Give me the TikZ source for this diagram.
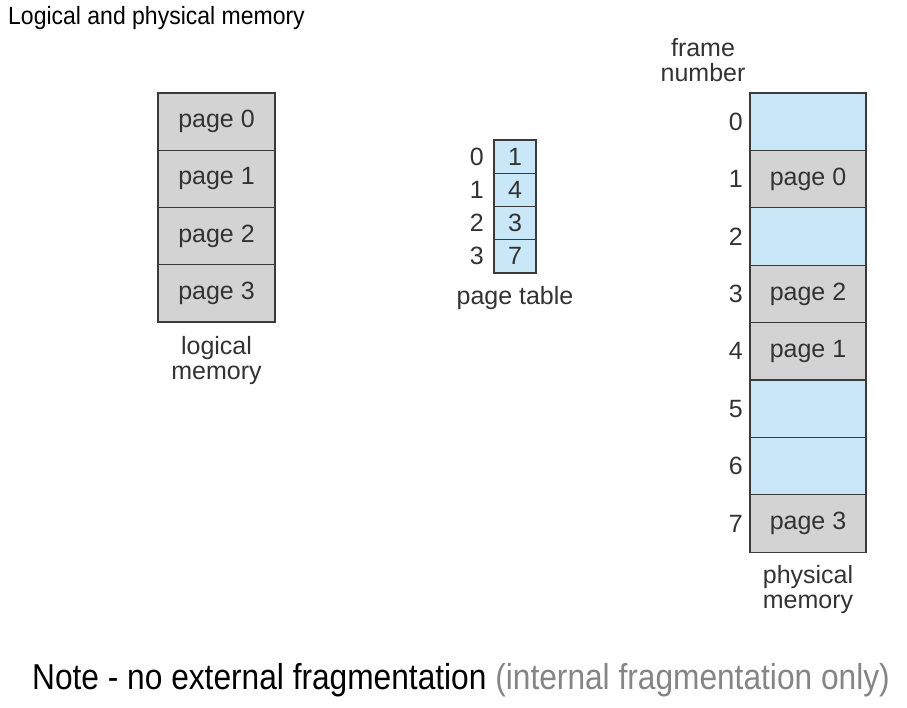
\documentclass[tikz,border=0pt]{standalone}
\usepackage{fontspec}
\setmainfont{Liberation Sans}
\usetikzlibrary{positioning}
\definecolor{memgray}{HTML}{D3D3D3}
\definecolor{memblue}{HTML}{C8E8F8}
\definecolor{memline}{HTML}{3A3A3A}
\definecolor{memtext}{HTML}{333333}
\definecolor{notegray}{HTML}{858585}
\newcommand{\memfont}{\fontsize{25}{29}\selectfont}
\tikzset{
  cell/.style={draw=memline, line width=1.2pt, outer sep=0pt, inner sep=0pt,
    text=memtext, font=\memfont},
  used/.style={cell, fill=memgray},
  free/.style={cell, fill=memblue},
  logcell/.style={used, minimum width=117pt, minimum height=57.25pt},
  physcell/.style={minimum width=116pt, minimum height=57.4pt},
  tabcell/.style={free, minimum width=42pt, minimum height=33.25pt},
  caption/.style={text=memtext, align=center, inner sep=0pt,
    font=\fontsize{25}{25}\selectfont},
  index/.style={text=memtext, inner sep=0pt, font=\memfont}
}
\begin{document}
\begin{tikzpicture}[x=1pt, y=-1pt]
  \useasboundingbox[fill=white] (0,0) rectangle (907,707);
  % title
  \node[anchor=west, inner sep=0pt] (title) at (8,18)
    {\scalebox{0.92}[1]{\fontsize{25}{30}\selectfont Logical and physical memory}};
  % logical memory
  \node[logcell, anchor=north west] (lp0) at (158,93) {page 0};
  \node[logcell, below=0pt of lp0] (lp1) {page 1};
  \node[logcell, below=0pt of lp1] (lp2) {page 2};
  \node[logcell, below=0pt of lp2] (lp3) {page 3};
  \node[caption, below=14pt of lp3] (logcap) {logical\\memory};
  % page table
  \node[tabcell, anchor=north west] (pt0) at (494,140) {1};
  \node[tabcell, below=0pt of pt0] (pt1) {4};
  \node[tabcell, below=0pt of pt1] (pt2) {3};
  \node[tabcell, below=0pt of pt2] (pt3) {7};
  \foreach \i in {0,...,3}
    \node[index, left=10pt of pt\i] (pi\i) {\i};
  \node[caption, below=13pt of pt3] (ptcap) {page table};
  % physical memory
  \node[free, physcell, anchor=north west] (fr0) at (750,93) {};
  \node[used, physcell, below=0pt of fr0] (fr1) {page 0};
  \node[free, physcell, below=0pt of fr1] (fr2) {};
  \node[used, physcell, below=0pt of fr2] (fr3) {page 2};
  \node[used, physcell, below=0pt of fr3] (fr4) {page 1};
  \node[free, physcell, below=0pt of fr4] (fr5) {};
  \node[free, physcell, below=0pt of fr5] (fr6) {};
  \node[used, physcell, below=0pt of fr6] (fr7) {page 3};
  \foreach \i in {0,...,7}
    \node[index, left=7pt of fr\i] (fi\i) {\i};
  \node[caption] (frcap) at (703,60) {frame\\number};
  \node[caption, below=13pt of fr7] (phcap) {physical\\memory};
  % note
  \node[anchor=west, inner sep=0pt] (note) at (32,680)
    {\scalebox{0.88}[1]{\fontsize{36}{40}\selectfont Note - no external fragmentation
      \textcolor{notegray}{(internal fragmentation only)}}};
\end{tikzpicture}
\end{document}
